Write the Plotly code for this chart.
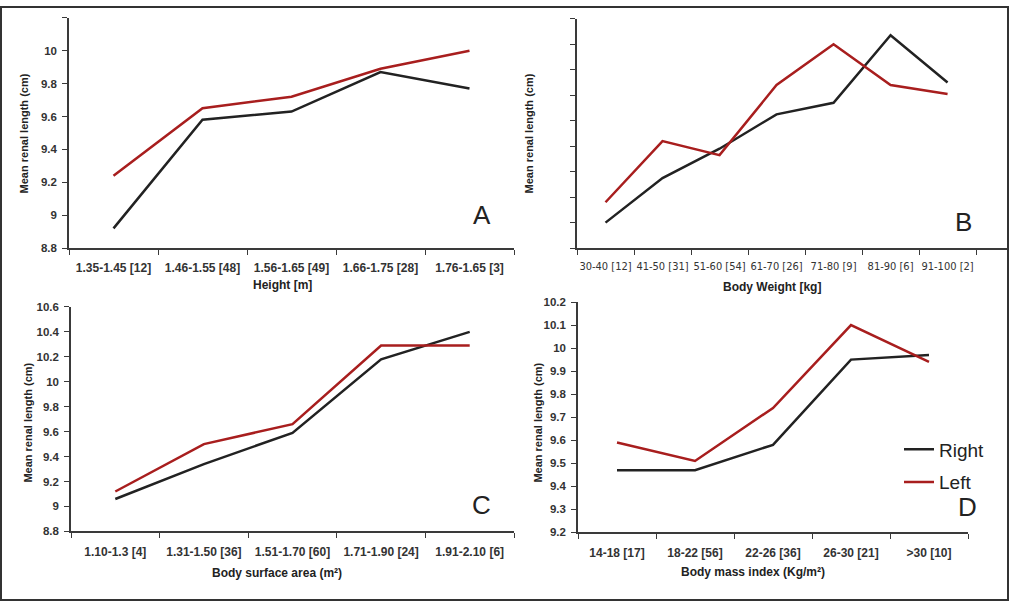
import plotly.graph_objects as go

# --- data ---
height_cats = ["1.35-1.45 [12]", "1.46-1.55 [48]", "1.56-1.65 [49]", "1.66-1.75 [28]", "1.76-1.65 [3]"]
height_right = [8.92, 9.58, 9.63, 9.87, 9.77]
height_left = [9.24, 9.65, 9.72, 9.89, 10.0]

weight_cats = ["30-40 [12]", "41-50 [31]", "51-60 [54]", "61-70 [26]", "71-80 [9]", "81-90 [6]", "91-100 [2]"]
weight_right = [9.0, 9.35, 9.58, 9.85, 9.94, 10.47, 10.10]
weight_left = [9.16, 9.64, 9.53, 10.08, 10.40, 10.08, 10.01]

bsa_cats = ["1.10-1.3 [4]", "1.31-1.50 [36]", "1.51-1.70 [60]", "1.71-1.90 [24]", "1.91-2.10 [6]"]
bsa_right = [9.06, 9.34, 9.59, 10.18, 10.40]
bsa_left = [9.12, 9.50, 9.66, 10.29, 10.29]

bmi_cats = ["14-18 [17]", "18-22 [56]", "22-26 [36]", "26-30 [21]", ">30 [10]"]
bmi_right = [9.47, 9.47, 9.58, 9.95, 9.97]
bmi_left = [9.59, 9.51, 9.74, 10.10, 9.94]

W, H = 1009, 607
BLACK = "#222222"
RED = "#A81E1E"
AXIS = "#3a3a3a"
FONT = "Liberation Sans, Arial, sans-serif"

def px(x):
    return x / W

def py(y):
    return 1 - y / H

fig = go.Figure()

panels = [
    # cats, right, left, axis suffix
    (height_cats, height_right, height_left, ""),
    (weight_cats, weight_right, weight_left, "2"),
    (bsa_cats, bsa_right, bsa_left, "3"),
    (bmi_cats, bmi_right, bmi_left, "4"),
]
for i, (cats, right, left, s) in enumerate(panels):
    last = i == 3
    fig.add_trace(go.Scatter(x=cats, y=right, mode="lines", name="Right",
                             line=dict(color=BLACK, width=2.5),
                             xaxis="x" + s, yaxis="y" + s,
                             showlegend=last, legendgroup="r"))
    fig.add_trace(go.Scatter(x=cats, y=left, mode="lines", name="Left",
                             line=dict(color=RED, width=2.5),
                             xaxis="x" + s, yaxis="y" + s,
                             showlegend=last, legendgroup="l"))

bold_tick = dict(family=FONT, size=12, color="#333333", weight="bold")
ytick_font = dict(family=FONT, size=11.5, color="#333333", weight="bold")

common_x = dict(showline=True, linecolor=AXIS, linewidth=1.5, ticks="outside",
                ticklen=5, tickcolor=AXIS, tickson="boundaries", showgrid=False,
                zeroline=False, type="category", fixedrange=True, tickangle=0)
common_y = dict(showline=True, linecolor=AXIS, linewidth=1.5, ticks="outside",
                ticklen=5, tickcolor=AXIS, showgrid=False, zeroline=False,
                fixedrange=True, ticklabelstandoff=3)

def yticks(lo, hi, step, labels=True, skip_top=False):
    vals = []
    v = lo
    while v <= hi + 1e-9:
        vals.append(round(v, 2))
        v += step
    if not labels:
        txt = ["" for _ in vals]
    else:
        txt = [("%g" % t) for t in vals]
        if skip_top:
            txt[-1] = ""
    return vals, txt

ya_v, ya_t = yticks(8.8, 10.2, 0.2, skip_top=True)
yb_v, yb_t = yticks(8.8, 10.6, 0.2, labels=False)
yc_v, yc_t = yticks(8.8, 10.6, 0.2)
yd_v, yd_t = yticks(9.2, 10.2, 0.1)

fig.update_layout(
    width=W, height=H,
    margin=dict(l=0, r=0, t=0, b=0),
    paper_bgcolor="white", plot_bgcolor="white",
    font=dict(family=FONT, color="#222222"),
    xaxis=dict(common_x, domain=[px(69), px(514)], anchor="y", range=[-0.5, 4.5],
               tickfont=bold_tick, ticklabelstandoff=8),
    yaxis=dict(common_y, domain=[py(247), py(12)], anchor="x", range=[8.8, 10.2],
               tickvals=ya_v, ticktext=ya_t, tickfont=ytick_font),
    xaxis2=dict(common_x, domain=[px(577), px(1008)], anchor="y2", range=[-0.5, 7.06],
                tickfont=dict(family="Liberation Sans Narrow, DejaVu Sans Condensed, " + FONT,
                              size=11, color="#333333"),
                ticklabelstandoff=7),
    yaxis2=dict(common_y, domain=[py(247), py(13)], anchor="x2", range=[8.8, 10.6],
                tickvals=yb_v, ticktext=yb_t),
    xaxis3=dict(common_x, domain=[px(71), px(514)], anchor="y3", range=[-0.5, 4.5],
                tickfont=bold_tick, ticklabelstandoff=8),
    yaxis3=dict(common_y, domain=[py(536), py(307)], anchor="x3", range=[8.8, 10.6],
                tickvals=yc_v, ticktext=yc_t, tickfont=ytick_font),
    xaxis4=dict(common_x, domain=[px(578), px(968)], anchor="y4", range=[-0.5, 4.5],
                tickfont=bold_tick, ticklabelstandoff=8),
    yaxis4=dict(common_y, domain=[py(537), py(302)], anchor="x4", range=[9.2, 10.2],
                tickvals=yd_v, ticktext=yd_t, tickfont=ytick_font),
    legend=dict(x=px(899), y=py(433), xanchor="left", yanchor="top",
                bgcolor="rgba(0,0,0,0)", borderwidth=0, tracegroupgap=5,
                font=dict(family=FONT, size=19, color="#222222")),
    showlegend=True,
)

def note(text, x, y, **kw):
    fig.add_annotation(x=px(x), y=py(y), xref="paper", yref="paper", text=text,
                       xanchor="center", yanchor="middle", showarrow=False, **kw)

# axis titles
ylab = "Mean renal length (cm)"
title_font = dict(family=FONT, size=11, color="#222222", weight="bold")
for (x, y) in [(24, 130), (529, 130), (28, 425), (538, 425)]:
    note(ylab, x, y, textangle=-90, font=title_font)

xtitles = [("Height [m]", 282, 285), ("Body Weight [kg]", 772, 287),
           ("Body surface area (m²)", 277, 578), ("Body mass index (Kg/m²)", 753, 577)]
for text, x, y in xtitles:
    note(text, x, y, font=dict(family=FONT, size=12, color="#222222", weight="bold"))

# panel letters
for text, x, y in [("A", 482, 213), ("B", 963, 220), ("C", 481, 509), ("D", 967, 511)]:
    note(text, x, y, font=dict(family=FONT, size=26, color="#222222"))

# outer frame
fig.add_shape(type="rect", xref="paper", yref="paper",
              x0=px(1), y0=py(606), x1=px(1008), y1=py(1),
              line=dict(color="#333333", width=2))

fig.write_html("out.html", config={"displayModeBar": False},
               post_script="document.body.style.margin='0';document.body.style.overflow='hidden';")
